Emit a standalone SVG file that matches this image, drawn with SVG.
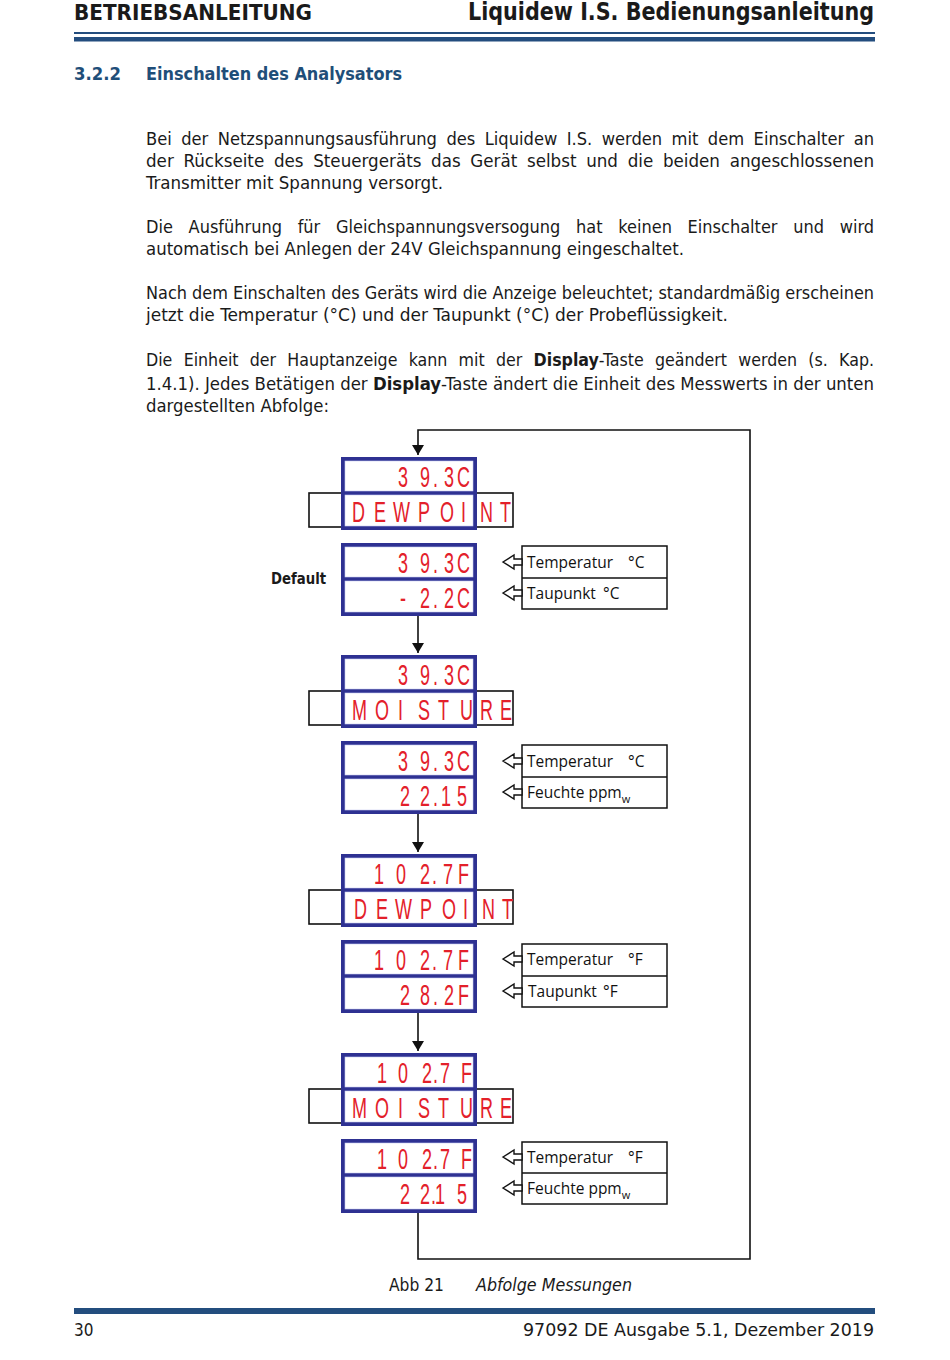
<svg xmlns="http://www.w3.org/2000/svg" width="950" height="1360" viewBox="0 0 950 1360">
<defs>
<style>
.hdr{font-family:"DejaVu Sans Condensed","DejaVu Sans","Liberation Sans",sans-serif;font-stretch:condensed;font-weight:bold;fill:#1a1a1a}
.sec{font-family:"DejaVu Sans Condensed","DejaVu Sans","Liberation Sans",sans-serif;font-stretch:condensed;font-weight:bold;font-size:18px;fill:#1f4e79}
.body{font-family:"DejaVu Sans Condensed","DejaVu Sans","Liberation Sans",sans-serif;font-stretch:condensed;font-size:17px;fill:#1a1a1a}
.lbl{font-family:"Open Sans","Liberation Sans",Arial,sans-serif;font-size:15.5px;fill:#111}
.seg{font-family:"Liberation Sans",Arial,sans-serif;font-size:30px;fill:#e3202a}
.frame{fill:#2e3192}
.row{fill:#ffffff;stroke:#c8ccf0;stroke-width:0.6}
.side{fill:#ffffff;stroke:#111;stroke-width:1.6}
.box{fill:#ffffff;stroke:#111;stroke-width:1.5}
.harrow{fill:#ffffff;stroke:#111;stroke-width:1.4;stroke-linejoin:miter}
.conn{fill:none;stroke:#111;stroke-width:1.6}
.bar{fill:#234d7e}
</style>
<marker id="ah" markerWidth="12" markerHeight="12" refX="10" refY="6" orient="auto" markerUnits="userSpaceOnUse">
<path d="M0,0 L10,6 L0,12 Z" fill="#111"/>
</marker>
</defs>
<rect width="950" height="1360" fill="#ffffff"/>

<g id="header">
<text class="hdr" x="74" y="20" font-size="22" textLength="238" lengthAdjust="spacingAndGlyphs">BETRIEBSANLEITUNG</text>
<text class="hdr" x="874" y="20" font-size="24" text-anchor="end" textLength="406" lengthAdjust="spacingAndGlyphs">Liquidew I.S. Bedienungsanleitung</text>
<rect class="bar" x="74" y="32" width="801" height="2"/>
<rect class="bar" x="74" y="37" width="801" height="4.5"/>
</g>

<g id="section">
<text class="sec" x="74" y="80" textLength="47" lengthAdjust="spacingAndGlyphs">3.2.2</text>
<text class="sec" x="146" y="80" textLength="256" lengthAdjust="spacingAndGlyphs">Einschalten des Analysators</text>
</g>

<g id="bodytext">
<text class="body" x="146" y="145" textLength="728" lengthAdjust="spacingAndGlyphs" word-spacing="4">Bei der Netzspannungsausführung des Liquidew I.S. werden mit dem Einschalter an</text>
<text class="body" x="146" y="167" textLength="728" lengthAdjust="spacingAndGlyphs" word-spacing="4">der Rückseite des Steuergeräts das Gerät selbst und die beiden angeschlossenen</text>
<text class="body" x="146" y="189" textLength="297" lengthAdjust="spacingAndGlyphs">Transmitter mit Spannung versorgt.</text>
<text class="body" x="146" y="233" textLength="728" lengthAdjust="spacingAndGlyphs" word-spacing="10">Die Ausführung für Gleichspannungsversogung hat keinen Einschalter und wird</text>
<text class="body" x="146" y="255" textLength="538" lengthAdjust="spacingAndGlyphs">automatisch bei Anlegen der 24V Gleichspannung eingeschaltet.</text>
<text class="body" x="146" y="299" textLength="728" lengthAdjust="spacingAndGlyphs">Nach dem Einschalten des Geräts wird die Anzeige beleuchtet; standardmäßig erscheinen</text>
<text class="body" x="146" y="321" textLength="582" lengthAdjust="spacingAndGlyphs">jetzt die Temperatur (°C) und der Taupunkt (°C) der Probeflüssigkeit.</text>
<text class="body" x="146" y="366" textLength="728" lengthAdjust="spacingAndGlyphs" word-spacing="6">Die Einheit der Hauptanzeige kann mit der <tspan font-weight="bold">Display</tspan>-Taste geändert werden (s. Kap.</text>
<text class="body" x="146" y="390" textLength="728" lengthAdjust="spacingAndGlyphs">1.4.1). Jedes Betätigen der <tspan font-weight="bold">Display</tspan>-Taste ändert die Einheit des Messwerts in der unten</text>
<text class="body" x="146" y="412" textLength="183" lengthAdjust="spacingAndGlyphs">dargestellten Abfolge:</text>
</g>

<g id="connectors">
<path class="conn" d="M418,1212 V1259 H750 V430 H418 V455" marker-end="url(#ah)"/>
<path class="conn" d="M418,616 V653" marker-end="url(#ah)"/>
<path class="conn" d="M418,814 V852" marker-end="url(#ah)"/>
<path class="conn" d="M418,1013 V1051" marker-end="url(#ah)"/>
</g>

<text id="default-label" class="hdr" x="271" y="584" font-size="16" textLength="55" lengthAdjust="spacingAndGlyphs">Default</text>

<!-- Display 1: 39.3C DEWPOINT -->
<g id="disp1">
<rect class="side" x="309" y="493" width="204" height="34"/>
<rect class="frame" x="341" y="457" width="136" height="73"/>
<rect class="row" x="345" y="461" width="128" height="30"/>
<rect class="row" x="345" y="495" width="128" height="31"/>
<g transform="scale(0.6 1)">
<text class="seg" x="663.3 700 721.7 740 761.7" y="487">39.3C</text>
<text class="seg" x="586.7 623.3 655 696.7 733.3 768.3 800 833.3" y="522">DEWPOINT</text>
</g>
</g>

<!-- Display 2: 39.3C -2.2C -->
<g id="disp2">
<rect class="frame" x="341" y="543" width="136" height="73"/>
<rect class="row" x="345" y="547" width="128" height="30"/>
<rect class="row" x="345" y="581" width="128" height="31"/>
<g transform="scale(0.6 1)">
<text class="seg" x="663.3 700 721.7 740 761.7" y="573">39.3C</text>
<text class="seg" x="666.7 700 721.7 740 761.7" y="608">-2.2C</text>
</g>
</g>
<g id="label1">
<rect class="box" x="522" y="546" width="145" height="63"/>
<line class="box" x1="522" y1="578" x2="667" y2="578"/>
<polygon class="harrow" points="503,562 514,555 514,559 522,559 522,565 514,565 514,569"/>
<polygon class="harrow" points="503,593 514,586 514,590 522,590 522,596 514,596 514,600"/>
<text class="lbl" x="527" y="568">Temperatur</text><text class="lbl" x="628" y="568">°C</text>
<text class="lbl" x="527" y="599">Taupunkt</text><text class="lbl" x="603" y="599">°C</text>
</g>

<!-- Display 3: 39.3C MOISTURE -->
<g id="disp3">
<rect class="side" x="309" y="691" width="204" height="34"/>
<rect class="frame" x="341" y="655" width="136" height="73"/>
<rect class="row" x="345" y="659" width="128" height="30"/>
<rect class="row" x="345" y="693" width="128" height="31"/>
<g transform="scale(0.6 1)">
<text class="seg" x="663.3 700 721.7 740 761.7" y="685">39.3C</text>
<text class="seg" x="586.7 625 663.3 696.7 730 766.7 800 833.3" y="720">MOISTURE</text>
</g>
</g>

<!-- Display 4: 39.3C 22.15 -->
<g id="disp4">
<rect class="frame" x="341" y="741" width="136" height="73"/>
<rect class="row" x="345" y="745" width="128" height="30"/>
<rect class="row" x="345" y="779" width="128" height="31"/>
<g transform="scale(0.6 1)">
<text class="seg" x="663.3 700 721.7 740 761.7" y="771">39.3C</text>
<text class="seg" x="666.7 700 721.7 735 761.7" y="806">22.15</text>
</g>
</g>
<g id="label2">
<rect class="box" x="522" y="745" width="145" height="63"/>
<line class="box" x1="522" y1="777" x2="667" y2="777"/>
<polygon class="harrow" points="503,761 514,754 514,758 522,758 522,764 514,764 514,768"/>
<polygon class="harrow" points="503,792 514,785 514,789 522,789 522,795 514,795 514,799"/>
<text class="lbl" x="527" y="767">Temperatur</text><text class="lbl" x="628" y="767">°C</text>
<text class="lbl" x="527" y="798">Feuchte ppm<tspan font-size="11" dy="5">w</tspan></text>
</g>

<!-- Display 5: 102.7F DEWPOINT -->
<g id="disp5">
<rect class="side" x="309" y="890" width="204" height="34"/>
<rect class="frame" x="341" y="854" width="136" height="73"/>
<rect class="row" x="345" y="858" width="128" height="30"/>
<rect class="row" x="345" y="892" width="128" height="31"/>
<g transform="scale(0.6 1)">
<text class="seg" x="623.3 660 700 720 738.3 763.3" y="884">102.7F</text>
<text class="seg" x="590 626.7 658.3 700 736.7 771.7 803.3 836.7" y="919">DEWPOINT</text>
</g>
</g>

<!-- Display 6: 102.7F 28.2F -->
<g id="disp6">
<rect class="frame" x="341" y="940" width="136" height="73"/>
<rect class="row" x="345" y="944" width="128" height="30"/>
<rect class="row" x="345" y="978" width="128" height="31"/>
<g transform="scale(0.6 1)">
<text class="seg" x="623.3 660 700 720 738.3 763.3" y="970">102.7F</text>
<text class="seg" x="666.7 700 721.7 740 763.3" y="1005">28.2F</text>
</g>
</g>
<g id="label3">
<rect class="box" x="522" y="944" width="145" height="63"/>
<line class="box" x1="522" y1="976" x2="667" y2="976"/>
<polygon class="harrow" points="503,959 514,952 514,956 522,956 522,962 514,962 514,966"/>
<polygon class="harrow" points="503,991 514,984 514,988 522,988 522,994 514,994 514,998"/>
<text class="lbl" x="527" y="965">Temperatur</text><text class="lbl" x="628" y="965">°F</text>
<text class="lbl" x="528" y="997">Taupunkt</text><text class="lbl" x="603" y="997">°F</text>
</g>

<!-- Display 7: 102.7F MOISTURE -->
<g id="disp7">
<rect class="side" x="309" y="1089" width="204" height="34"/>
<rect class="frame" x="341" y="1053" width="136" height="73"/>
<rect class="row" x="345" y="1057" width="128" height="30"/>
<rect class="row" x="345" y="1091" width="128" height="31"/>
<g transform="scale(0.6 1)">
<text class="seg" x="628.3 663.3 703.3 721.7 733.3 768.3" y="1083">102.7F</text>
<text class="seg" x="586.7 625 663.3 696.7 730 766.7 800 833.3" y="1118">MOISTURE</text>
</g>
</g>

<!-- Display 8: 102.7F 22.15 -->
<g id="disp8">
<rect class="frame" x="341" y="1139" width="136" height="74"/>
<rect class="row" x="345" y="1143" width="128" height="30"/>
<rect class="row" x="345" y="1177" width="128" height="32"/>
<g transform="scale(0.6 1)">
<text class="seg" x="628.3 663.3 703.3 721.7 733.3 768.3" y="1169">102.7F</text>
<text class="seg" x="666.7 700 718.3 725 761.7" y="1204">22.15</text>
</g>
</g>
<g id="label4">
<rect class="box" x="522" y="1142" width="145" height="62"/>
<line class="box" x1="522" y1="1173" x2="667" y2="1173"/>
<polygon class="harrow" points="503,1157 514,1150 514,1154 522,1154 522,1160 514,1160 514,1164"/>
<polygon class="harrow" points="503,1188 514,1181 514,1185 522,1185 522,1191 514,1191 514,1195"/>
<text class="lbl" x="527" y="1163">Temperatur</text><text class="lbl" x="628" y="1163">°F</text>
<text class="lbl" x="527" y="1194">Feuchte ppm<tspan font-size="11" dy="5">w</tspan></text>
</g>

<g id="caption">
<text class="body" x="389" y="1291" textLength="55" lengthAdjust="spacingAndGlyphs">Abb 21</text>
<text class="body" x="476" y="1291" font-style="italic" textLength="156" lengthAdjust="spacingAndGlyphs">Abfolge Messungen</text>
</g>

<g id="footer">
<rect class="bar" x="74" y="1308" width="801" height="6"/>
<text class="body" x="74" y="1336" font-size="20">30</text>
<text class="body" x="874" y="1336" font-size="20" text-anchor="end" textLength="351" lengthAdjust="spacingAndGlyphs">97092 DE Ausgabe 5.1, Dezember 2019</text>
</g>
</svg>
